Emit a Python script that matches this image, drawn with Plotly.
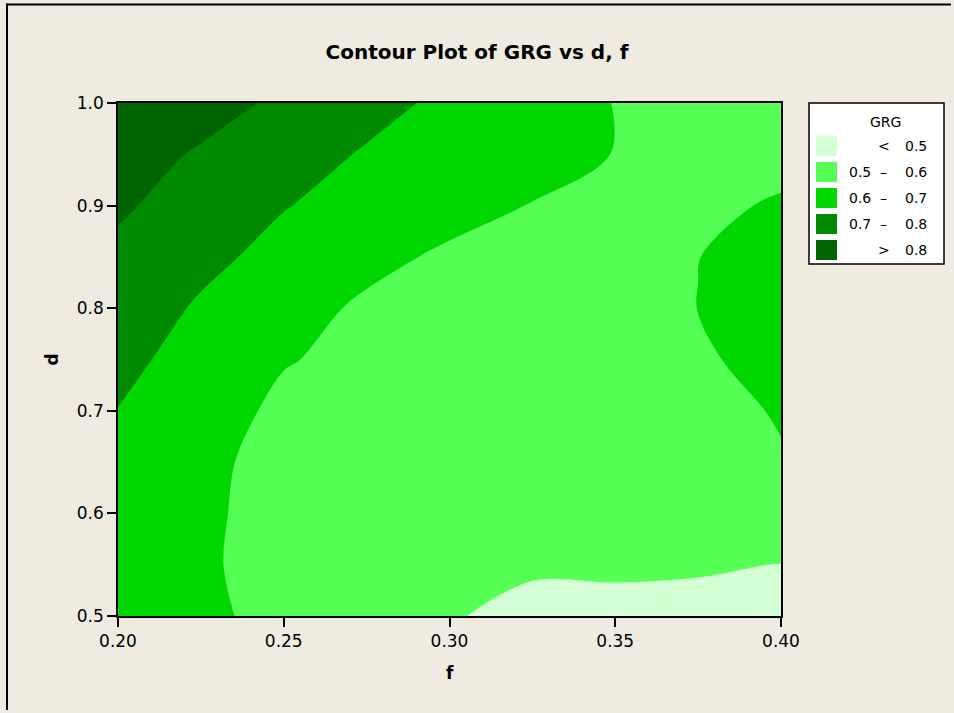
import plotly.graph_objects as go

# Grid of the fitted response GRG over feed (f) and depth (d)
f_vals = [0.200, 0.225, 0.250, 0.275, 0.300, 0.325, 0.350, 0.375, 0.400]
d_vals = [0.50, 0.55, 0.60, 0.65, 0.70, 0.75, 0.80, 0.85, 0.90, 0.95, 1.00]

# one row per d value (bottom to top), one column per f value
grg_d050 = [0.655, 0.615, 0.578, 0.543, 0.504, 0.485, 0.485, 0.485, 0.488]
grg_d055 = [0.660, 0.615, 0.560, 0.535, 0.520, 0.507, 0.508, 0.505, 0.499]
grg_d060 = [0.665, 0.617, 0.565, 0.540, 0.525, 0.515, 0.512, 0.515, 0.545]
grg_d065 = [0.675, 0.621, 0.570, 0.550, 0.535, 0.525, 0.525, 0.540, 0.590]
grg_d070 = [0.698, 0.640, 0.582, 0.560, 0.545, 0.535, 0.535, 0.558, 0.610]
grg_d075 = [0.727, 0.661, 0.605, 0.580, 0.560, 0.550, 0.550, 0.590, 0.625]
grg_d080 = [0.754, 0.689, 0.636, 0.585, 0.570, 0.560, 0.560, 0.601, 0.635]
grg_d085 = [0.780, 0.723, 0.672, 0.625, 0.585, 0.570, 0.565, 0.599, 0.630]
grg_d090 = [0.813, 0.759, 0.704, 0.667, 0.632, 0.597, 0.575, 0.590, 0.605]
grg_d095 = [0.842, 0.790, 0.739, 0.692, 0.661, 0.630, 0.598, 0.585, 0.585]
grg_d100 = [0.891, 0.837, 0.783, 0.729, 0.681, 0.640, 0.598, 0.580, 0.575]

grg = [grg_d050, grg_d055, grg_d060, grg_d065, grg_d070, grg_d075,
       grg_d080, grg_d085, grg_d090, grg_d095, grg_d100]

x_ticks = [0.20, 0.25, 0.30, 0.35, 0.40]
y_ticks = [0.5, 0.6, 0.7, 0.8, 0.9, 1.0]

band_colors = ["#d4ffd4", "#55ff55", "#00d700", "#008a00", "#006400"]
band_lows = ["", "0.5", "0.6", "0.7", ""]
band_ops = ["<", "–", "–", "–", ">"]
band_highs = ["0.5", "0.6", "0.7", "0.8", "0.8"]

W, H = 954, 713
L, R, T, B = 118, 173, 103, 97
BG = "#efebe1"
FONT = "DejaVu Sans"


def px(xp):
    return (xp - L) / (W - L - R)


def py(yp):
    return (H - B - yp) / (H - T - B)


# step colour scale: one flat colour per 0.1 band between 0.4 and 0.9
scale = []
n = len(band_colors)
for i, c in enumerate(band_colors):
    scale.append([i / n, c])
    scale.append([(i + 1) / n, c])

fig = go.Figure()
fig.add_trace(go.Contour(
    x=f_vals, y=d_vals, z=grg,
    zmin=0.4, zmax=0.9, zauto=False,
    colorscale=scale, showscale=False,
    contours=dict(start=0.5, end=0.8, size=0.1, coloring="fill", showlines=False),
    line=dict(width=0, smoothing=1.0),
    hoverinfo="x+y+z",
))

shapes = [
    # outer frame: top and left edges, kept just inside the page
    dict(type="line", xref="paper", yref="paper", x0=px(6), x1=px(W - 3),
         y0=py(4.5), y1=py(4.5), line=dict(color="black", width=2)),
    dict(type="line", xref="paper", yref="paper", x0=px(7), x1=px(7),
         y0=py(3.5), y1=py(H - 3), line=dict(color="black", width=2)),
    # legend box
    dict(type="rect", xref="paper", yref="paper", x0=px(809), x1=px(944),
         y0=py(264), y1=py(103), fillcolor="white", line=dict(color="black", width=1.5)),
]
annotations = [
    dict(text="GRG", x=px(885), y=py(122), xref="paper", yref="paper",
         showarrow=False, xanchor="center", yanchor="middle",
         font=dict(family=FONT, size=14, color="black")),
]
for i, c in enumerate(band_colors):
    yc = 146 + 26 * i
    shapes.append(dict(type="rect", xref="paper", yref="paper",
                       x0=px(816), x1=px(837), y0=py(yc + 10), y1=py(yc - 10),
                       fillcolor=c, line=dict(width=0)))
    if band_lows[i]:
        annotations.append(dict(text=band_lows[i], x=px(847), y=py(yc), xref="paper",
                                yref="paper", showarrow=False, xanchor="left",
                                yanchor="middle",
                                font=dict(family=FONT, size=14, color="black")))
    annotations.append(dict(text=band_ops[i], x=px(884), y=py(yc), xref="paper",
                            yref="paper", showarrow=False, xanchor="center",
                            yanchor="middle",
                            font=dict(family=FONT, size=14, color="black")))
    annotations.append(dict(text=band_highs[i], x=px(929), y=py(yc), xref="paper",
                            yref="paper", showarrow=False, xanchor="right",
                            yanchor="middle",
                            font=dict(family=FONT, size=14, color="black")))

# x axis title sits just below the tick labels
annotations.append(dict(text="<b>f</b>", x=px(449.5), y=py(673), xref="paper",
                        yref="paper", showarrow=False, xanchor="center",
                        yanchor="middle",
                        font=dict(family=FONT, size=17, color="black")))

axis_common = dict(
    showline=True, linecolor="black", linewidth=1.5, mirror=True,
    ticks="outside", ticklen=9, tickwidth=1.5, tickcolor="black",
    showgrid=False, zeroline=False,
    tickfont=dict(family=FONT, size=17, color="black"),
)

fig.update_layout(
    width=W, height=H,
    margin=dict(l=L, r=R, t=T, b=B),
    paper_bgcolor=BG, plot_bgcolor=BG,
    title=dict(text="<b>Contour Plot of GRG vs d, f</b>", x=px(449.5), xanchor="center",
               y=1 - 52 / H, yanchor="middle",
               font=dict(family=FONT, size=20, color="black")),
    xaxis=dict(range=[0.2, 0.4], tickvals=x_ticks, tickformat=".2f",
               title=dict(text=""), **axis_common),
    yaxis=dict(range=[0.5, 1.0], tickvals=y_ticks, tickformat=".1f",
               title=dict(text="<b>d</b>", standoff=14,
                          font=dict(family=FONT, size=17, color="black")),
               **axis_common),
    shapes=shapes,
    annotations=annotations,
    showlegend=False,
)

fig.write_html("out.html")
